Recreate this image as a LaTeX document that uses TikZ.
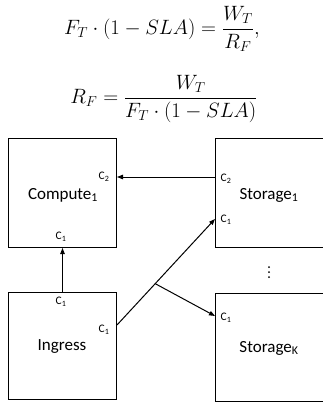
\documentclass[tikz,border=0pt]{standalone}
\usepackage{amsmath}
\usepackage{fontspec}
\setmainfont{Carlito}
\usetikzlibrary{arrows.meta, positioning, calc}

\begin{document}
\begin{tikzpicture}[x=1pt, y=-1pt, >={Triangle[length=6pt, width=4.5pt]},
    line width=1pt, font=\fontsize{17}{20}\selectfont]
  \tikzset{
    box/.style={draw, anchor=north west, inner sep=0pt},
    port/.style={font=\fontsize{11.5}{13}\selectfont, inner sep=0pt},
    eqn/.style={font=\fontsize{22}{26}\selectfont, inner sep=0pt}
  }
  \useasboundingbox (0,0) rectangle (322,405);
  % the two relations
  \node[eqn] (eqa) at (162,29) {$F_T\cdot(1-SLA)=\dfrac{W_T}{R_F},$};
  \node[eqn] (eqb) at (164,99) {$R_F=\dfrac{W_T}{F_T\cdot(1-SLA)}$};
  % boxes
  \node[box, minimum width=108pt, minimum height=109pt] (compute) at (8,138) {};
  \node[box, minimum width=109pt, minimum height=109pt] (storage1) at (215,138) {};
  \node[box, minimum width=108pt, minimum height=107pt] (ingress) at (8,292) {};
  \node[box, minimum width=109pt, minimum height=108pt] (storageK) at (215,293) {};
  \node (computeT) at (63,195) {Compute\textsubscript{1}};
  \node (storage1T) at (269,195) {Storage\textsubscript{1}};
  \node (ingressT) at (62,347) {Ingress};
  \node (storageKT) at (269,348) {Storage\textsubscript{K}};
  % ports
  \coordinate (cmpR) at ([yshift=-39pt]compute.north east);
  \coordinate (st1C2) at ([yshift=-39pt]storage1.north west);
  \coordinate (st1C1) at ([yshift=-81pt]storage1.north west);
  \coordinate (inR) at ([yshift=-33pt]ingress.north east);
  \coordinate (stKC1) at ([yshift=-23pt]storageK.north west);
  \coordinate (fork) at ($(inR)!0.39!(st1C1)$);
  \node[port] (cC2) at (104,177) {C\textsubscript{2}};
  \node[port] (cC1) at (61,237) {C\textsubscript{1}};
  \node[port] (sC2) at (226,179) {C\textsubscript{2}};
  \node[port] (sC1) at (226,220) {C\textsubscript{1}};
  \node[port] (iC1t) at (61,302) {C\textsubscript{1}};
  \node[port] (iC1r) at (104,330) {C\textsubscript{1}};
  \node[port] (kC1) at (226,318) {C\textsubscript{1}};
  % connectors
  \draw[->] (st1C2) -- (cmpR);
  \draw[->] (ingress.north) -- (compute.south);
  \draw[->] (inR) -- (st1C1);
  \draw[->] (fork) -- (stKC1);
  \foreach \y in {267,272,277} {
    \fill (269,\y) circle (1pt);
  }
\end{tikzpicture}
\end{document}
